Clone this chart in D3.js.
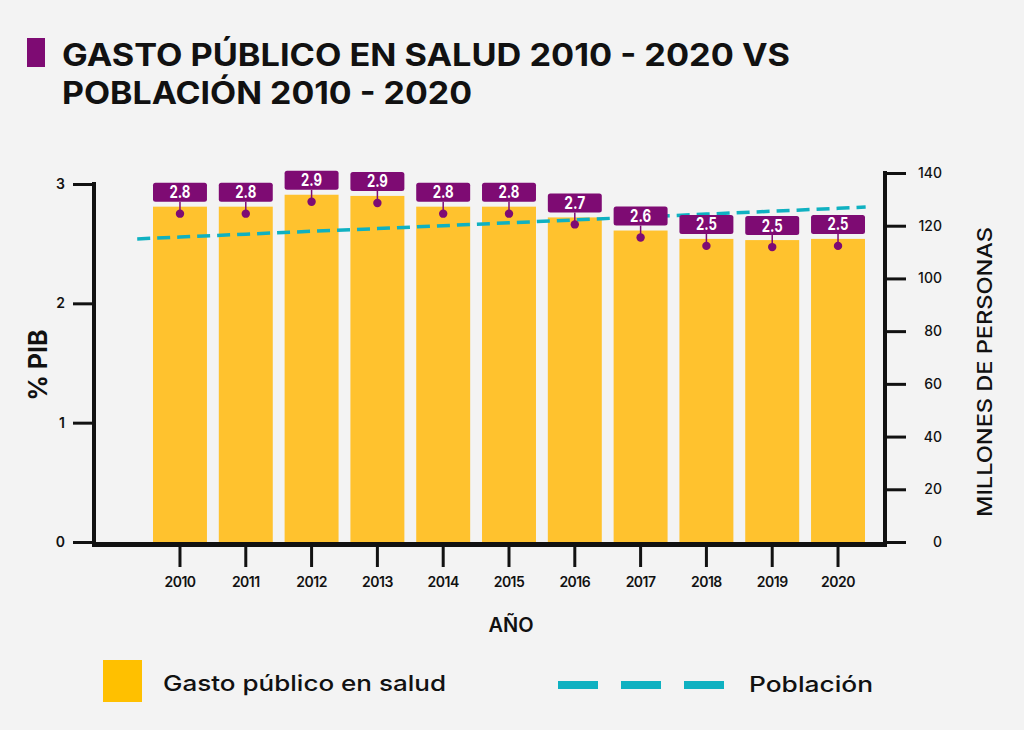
<!DOCTYPE html>
<html>
<head>
<meta charset="utf-8">
<script src="https://cdn.jsdelivr.net/npm/d3@7"></script>
<style>
  html, body { margin: 0; padding: 0; background: #f3f3f3; }
  svg { display: block; }
  text { font-family: "Inter", "Open Sans", "Noto Sans", sans-serif; }
</style>
</head>
<body>
<svg id="chart" width="1024" height="730"></svg>
<script>
// ---- data ----
const years = ["2010","2011","2012","2013","2014","2015","2016","2017","2018","2019","2020"];
const gastoSalud = [2.81, 2.81, 2.91, 2.90, 2.81, 2.81, 2.72, 2.61, 2.54, 2.53, 2.54];   // % PIB
const poblacion = [115.7, 116.8, 117.9, 118.9, 120.0, 121.1, 122.2, 123.3, 124.4, 125.5, 126.6]; // millones
const leftTicks = [0, 1, 2, 3];
const rightTicks = [0, 20, 40, 60, 80, 100, 120, 140];
const titleLines = ["GASTO PÚBLICO EN SALUD 2010 - 2020 VS", "POBLACIÓN 2010 - 2020"];

// ---- style ----
const C = { bar: "#ffc22e", barLegend: "#ffc000", purple: "#7e0b73", teal: "#0fb1c1", ink: "#111" };

const svg = d3.select("#chart");
svg.append("rect").attr("width", 1024).attr("height", 730).attr("fill", "#f3f3f3");

// title
svg.append("rect").attr("x", 27).attr("y", 38).attr("width", 18).attr("height", 29).attr("fill", C.purple);
const tl = [[62, 66, 728], [62, 104, 410]];
const title = svg.append("text").attr("font-size", 31).attr("font-weight", 700).attr("fill", C.ink);
titleLines.forEach((t, i) => {
  title.append("tspan").attr("x", tl[i][0]).attr("y", tl[i][1])
    .attr("textLength", tl[i][2]).attr("lengthAdjust", "spacingAndGlyphs")
    .text(t);
});

// scales
const x = d3.scaleBand().domain(years).range([153, 865]).paddingInner(0.18).paddingOuter(0);
const yL = d3.scaleLinear().domain([0, 3]).range([542, 184]);
const yR = d3.scaleLinear().domain([0, 140]).range([542, 173]);

// bars
svg.append("g").selectAll("rect").data(years).join("rect")
  .attr("x", d => x(d)).attr("width", x.bandwidth())
  .attr("y", (d, i) => yL(gastoSalud[i]))
  .attr("height", (d, i) => yL(0) - yL(gastoSalud[i]))
  .attr("fill", C.bar);

// population dashed line (extended beyond the first/last year as in the original)
const pts = years.map((d, i) => [x(d) + x.bandwidth() / 2, yR(poblacion[i])]);
const ext = (a, b, k) => [a[0] + (a[0] - b[0]) * k, a[1] + (a[1] - b[1]) * k];
const linePts = [ext(pts[0], pts[1], 0.65), ...pts, ext(pts[pts.length - 1], pts[pts.length - 2], 0.42)];
svg.append("path").datum(linePts)
  .attr("d", d3.line())
  .attr("fill", "none").attr("stroke", C.teal).attr("stroke-width", 3.5)
  .attr("stroke-dasharray", "13,7");

// value labels
const lab = svg.append("g").selectAll("g").data(years).join("g")
  .attr("transform", (d, i) => `translate(${x(d)},${yL(gastoSalud[i])})`);
lab.append("line").attr("x1", x.bandwidth() / 2).attr("x2", x.bandwidth() / 2)
  .attr("y1", -5).attr("y2", 7).attr("stroke", C.purple).attr("stroke-width", 1.5);
lab.append("circle").attr("cx", x.bandwidth() / 2).attr("cy", 7).attr("r", 4.2).attr("fill", C.purple);
lab.append("rect").attr("x", 0).attr("y", -24).attr("width", x.bandwidth()).attr("height", 19)
  .attr("rx", 2.5).attr("fill", C.purple);
lab.append("text").attr("x", x.bandwidth() / 2).attr("y", -8.5)
  .attr("text-anchor", "middle").attr("fill", "#fff")
  .attr("font-family", "Roboto, sans-serif")
  .attr("font-size", 17).attr("font-weight", 700)
  .attr("textLength", 21).attr("lengthAdjust", "spacingAndGlyphs")
  .text((d, i) => d3.format(".1f")(gastoSalud[i]));

// axes
const axStroke = sel => sel.selectAll("line").attr("stroke", C.ink).attr("stroke-width", 3);
// left
const gL = svg.append("g").attr("transform", "translate(94,0)")
  .call(d3.axisLeft(yL).tickValues(leftTicks).tickSize(21).tickPadding(8).tickFormat(d3.format("d")));
gL.select(".domain").remove();
axStroke(gL);
gL.selectAll("text").attr("font-size", 14).attr("font-weight", 600).attr("fill", C.ink).attr("font-family", "Inter, sans-serif");
svg.append("line").attr("x1", 94).attr("x2", 94).attr("y1", 182).attr("y2", 546).attr("stroke", C.ink).attr("stroke-width", 4);

// right
const gR = svg.append("g").attr("transform", "translate(885,0)")
  .call(d3.axisRight(yR).tickValues(rightTicks).tickSize(21).tickPadding(0).tickFormat(d3.format("d")));
gR.select(".domain").remove();
axStroke(gR);
gR.selectAll("text").attr("font-size", 14).attr("font-weight", 500).attr("fill", C.ink)
  .attr("text-anchor", "end").attr("x", 57).attr("font-family", "Inter, sans-serif");
svg.append("line").attr("x1", 885).attr("x2", 885).attr("y1", 171).attr("y2", 546).attr("stroke", C.ink).attr("stroke-width", 4);

// bottom
const gB = svg.append("g").attr("transform", "translate(0,545)")
  .call(d3.axisBottom(x).tickSize(22).tickPadding(10));
gB.select(".domain").remove();
axStroke(gB);
gB.selectAll("text").attr("font-size", 14).attr("font-weight", 600).attr("fill", C.ink).attr("font-family", "Inter, sans-serif")
  .attr("letter-spacing", "-0.5");
svg.append("line").attr("x1", 92).attr("x2", 887).attr("y1", 544.5).attr("y2", 544.5).attr("stroke", C.ink).attr("stroke-width", 5);

// axis titles
svg.append("text").attr("transform", "translate(47,365) rotate(-90)")
  .attr("text-anchor", "middle").attr("font-size", 25).attr("font-weight", 700).attr("fill", C.ink)
  .text("% PIB");
svg.append("text").attr("transform", "translate(992,372) rotate(-90)")
  .attr("text-anchor", "middle").attr("font-size", 20).attr("font-weight", 500).attr("fill", C.ink)
  .attr("textLength", 290).attr("lengthAdjust", "spacingAndGlyphs")
  .text("MILLONES DE PERSONAS");
svg.append("text").attr("x", 511).attr("y", 632)
  .attr("text-anchor", "middle").attr("font-size", 20).attr("font-weight", 600).attr("fill", C.ink)
  .text("AÑO");

// legend
svg.append("rect").attr("x", 103).attr("y", 660).attr("width", 39).attr("height", 42).attr("fill", C.barLegend);
svg.append("text").attr("x", 163).attr("y", 691).attr("font-size", 22).attr("font-weight", 500).attr("fill", C.ink)
  .attr("textLength", 283).attr("lengthAdjust", "spacingAndGlyphs")
  .text("Gasto público en salud");
svg.append("line").attr("x1", 558).attr("x2", 724).attr("y1", 685).attr("y2", 685)
  .attr("stroke", C.teal).attr("stroke-width", 8).attr("stroke-dasharray", "40,23");
svg.append("text").attr("x", 749).attr("y", 692).attr("font-size", 22).attr("font-weight", 500).attr("fill", C.ink)
  .attr("textLength", 124).attr("lengthAdjust", "spacingAndGlyphs")
  .text("Población");
</script>
</body>
</html>
